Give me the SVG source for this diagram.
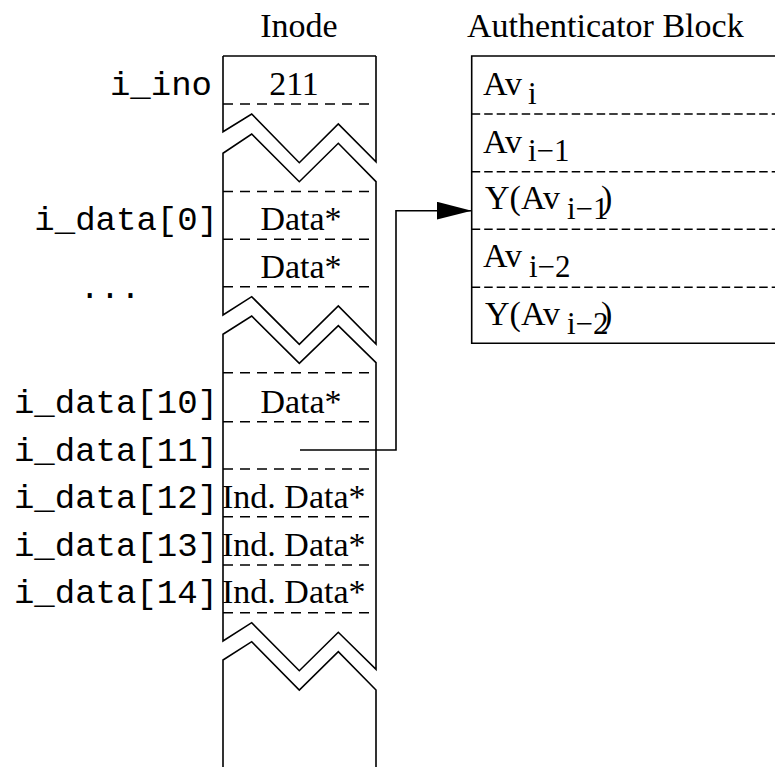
<svg xmlns="http://www.w3.org/2000/svg" width="775" height="767" viewBox="0 0 775 767">
  <style>
    .serif { font-family: "Liberation Serif", "Times New Roman", serif; font-size: 34px; fill: #000; }
    .sub { font-family: "Liberation Serif", "Times New Roman", serif; font-size: 31px; fill: #000; }
    .mono { font-family: "Liberation Mono", "Courier New", monospace; font-size: 34px; fill: #000; }
    .edge { fill: none; stroke: #000; stroke-width: 1.6; }
    .slot { fill: none; stroke: #000; stroke-width: 1.6; stroke-dasharray: 10 7; }
    .rowline { fill: none; stroke: #000; stroke-width: 1.6; stroke-dasharray: 8.5 4; }
  </style>
  <defs>
    <marker id="arrow" markerUnits="userSpaceOnUse" markerWidth="36" markerHeight="20" refX="35" refY="9" orient="auto">
      <path d="M0,0 L35,9 L0,18 Z" fill="#000"/>
    </marker>
  </defs>
  <rect width="775" height="767" fill="#fff"/>

  <!-- column headers -->
  <text class="serif" x="299" y="37" text-anchor="middle">Inode</text>
  <text class="serif" x="467" y="37">Authenticator Block</text>

  <!-- field names -->
  <g id="labels" class="mono" text-anchor="end">
    <text x="212" y="95">i_ino</text>
    <text x="218" y="230">i_data[0]</text>
    <text x="110" y="298" text-anchor="middle">...</text>
    <text x="218" y="413">i_data[10]</text>
    <text x="218" y="461">i_data[11]</text>
    <text x="218" y="508">i_data[12]</text>
    <text x="218" y="556">i_data[13]</text>
    <text x="218" y="603">i_data[14]</text>
  </g>

  <!-- inode column with torn breaks -->
  <g id="inode">
    <path class="edge" d="M223,56 H376"/>
    <path class="edge" d="M223,56 V131.7 L251.7,114 L299.3,162.7 L338.3,124 L376,161.7 V56"/>
    <path class="edge" d="M223,315 V153.3 L251.7,134 L299.3,181.7 L338.3,143.3 L376,181.7 V344 L338.3,306 L299.3,344.3 L251.7,296.7 Z" />
    <path class="edge" d="M223,641 V334.3 L251.7,316 L299.3,363.3 L338.3,325.7 L376,362.7 V669.3 L338.3,632.3 L299.3,670.7 L251.7,622.7 Z"/>
    <path class="edge" d="M223,767 V660 L251.7,641.7 L299.3,690 L338.3,651.7 L376,690 V767"/>
    <g class="slot">
      <path d="M223,104 H376"/>
      <path d="M223,191.5 H376"/>
      <path d="M223,239.3 H376"/>
      <path d="M223,286.7 H376"/>
      <path d="M223,372.7 H376"/>
      <path d="M223,421.7 H376"/>
      <path d="M223,469 H376"/>
      <path d="M223,516.7 H376"/>
      <path d="M223,565 H376"/>
      <path d="M223,612.7 H376"/>
    </g>
    <g class="serif">
      <text x="294" y="95" text-anchor="middle">211</text>
      <text x="301" y="230" text-anchor="middle">Data*</text>
      <text x="301" y="277.5" text-anchor="middle">Data*</text>
      <text x="301" y="412.5" text-anchor="middle">Data*</text>
      <text x="222" y="507.5">Ind. Data*</text>
      <text x="222" y="555.5">Ind. Data*</text>
      <text x="222" y="603">Ind. Data*</text>
    </g>
  </g>

  <!-- authenticator block -->
  <g id="auth">
    <path class="edge" d="M780,56 H471.7 V343.3 H780"/>
    <g class="rowline">
      <path d="M471.7,114 H780"/>
      <path d="M471.7,171.7 H780"/>
      <path d="M471.7,229.3 H780"/>
      <path d="M471.7,287.3 H780"/>
    </g>
    <text class="serif" x="483" y="95">Av</text>
    <text class="sub" x="528" y="103.5">i</text>
    <text class="serif" x="483" y="152.5">Av</text>
    <text class="sub" x="528" y="161">i−1</text>
    <text class="serif" x="485" y="209">Y(Av</text>
    <text class="sub" x="567" y="218.5">i−1</text>
    <text class="serif" x="601" y="209">)</text>
    <text class="serif" x="483" y="267">Av</text>
    <text class="sub" x="529" y="276.5">i−2</text>
    <text class="serif" x="485" y="325">Y(Av</text>
    <text class="sub" x="567" y="334">i−2</text>
    <text class="serif" x="601" y="325">)</text>
  </g>

  <!-- pointer from i_data[11] -->
  <g id="connectors">
    <path class="edge" d="M300,450 H396 V210.7 H471.7" marker-end="url(#arrow)"/>
  </g>
</svg>
